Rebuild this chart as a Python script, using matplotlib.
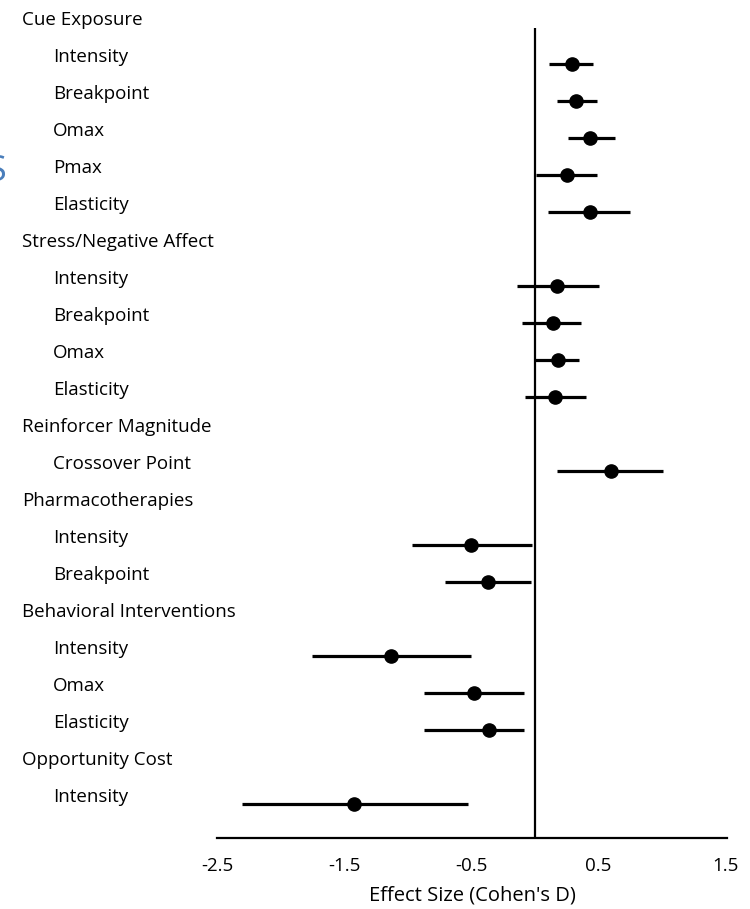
import matplotlib
matplotlib.use("Agg")
import matplotlib.pyplot as plt
import matplotlib.transforms as mtransforms

plt.rcParams['font.family'] = ['Open Sans', 'DejaVu Sans']

# rows top to bottom
labels = ["Cue Exposure", "Intensity", "Breakpoint", "Omax", "Pmax", "Elasticity",
          "Stress/Negative Affect", "Intensity", "Breakpoint", "Omax", "Elasticity",
          "Reinforcer Magnitude", "Crossover Point",
          "Pharmacotherapies", "Intensity", "Breakpoint",
          "Behavioral Interventions", "Intensity", "Omax", "Elasticity",
          "Opportunity Cost", "Intensity"]
is_header = [True, False, False, False, False, False,
             True, False, False, False, False,
             True, False,
             True, False, False,
             True, False, False, False,
             True, False]

# effect sizes for the non-header rows, in order
effect = [0.29, 0.32, 0.43, 0.25, 0.43,
          0.17, 0.14, 0.18, 0.16,
          0.60,
          -0.50, -0.37,
          -1.13, -0.48, -0.36,
          -1.42]
ci_low = [0.11, 0.17, 0.26, 0.01, 0.10,
          -0.14, -0.10, 0.00, -0.08,
          0.17,
          -0.97, -0.71,
          -1.75, -0.87, -0.87,
          -2.30]
ci_high = [0.46, 0.49, 0.63, 0.49, 0.75,
           0.50, 0.36, 0.35, 0.40,
           1.01,
           -0.02, -0.03,
           -0.50, -0.09, -0.09,
           -0.53]

xticks = [-2.5, -1.5, -0.5, 0.5, 1.5]

fig = plt.figure(figsize=(7.5, 9.09), dpi=100)
ax = fig.add_axes([217 / 750, 1 - 838 / 909, 510 / 750, 810 / 909])

item_rows = [i for i, h in enumerate(is_header) if not h]
ypos = [r + 0.18 for r in item_rows]

for y, lo, hi in zip(ypos, ci_low, ci_high):
    ax.plot([lo, hi], [y, y], color='black', lw=2.3, solid_capstyle='butt', zorder=2)
ax.plot(effect, ypos, 'o', color='black', markersize=9.5, zorder=3)

ax.axvline(0, color='black', lw=1.6, zorder=1)

ax.set_xlim(-2.5, 1.51)
ax.set_ylim(22.1, 0.22)
ax.set_xticks(xticks)
ax.set_xticklabels([str(t) for t in xticks], fontsize=13.5)
ax.tick_params(axis='x', length=0, pad=14)
ax.set_yticks([])
for s in ['top', 'right', 'left']:
    ax.spines[s].set_visible(False)
ax.spines['bottom'].set_linewidth(1.6)
ax.set_xlabel("Effect Size (Cohen's D)", fontsize=14.5, labelpad=7)

trans = mtransforms.blended_transform_factory(fig.transFigure, ax.transData)
for i, (lab, h) in enumerate(zip(labels, is_header)):
    x = 22 / 750 if h else 53 / 750
    ax.text(x, i, lab, transform=trans, fontsize=13.5, va='center', ha='left', clip_on=False)

# partially cropped glyph at left edge of the source image
fig.text(-0.018, 1 - 172 / 909, "S", color='#4a7ebb', fontsize=26, va='center')

fig.savefig("out.png", dpi=100)
